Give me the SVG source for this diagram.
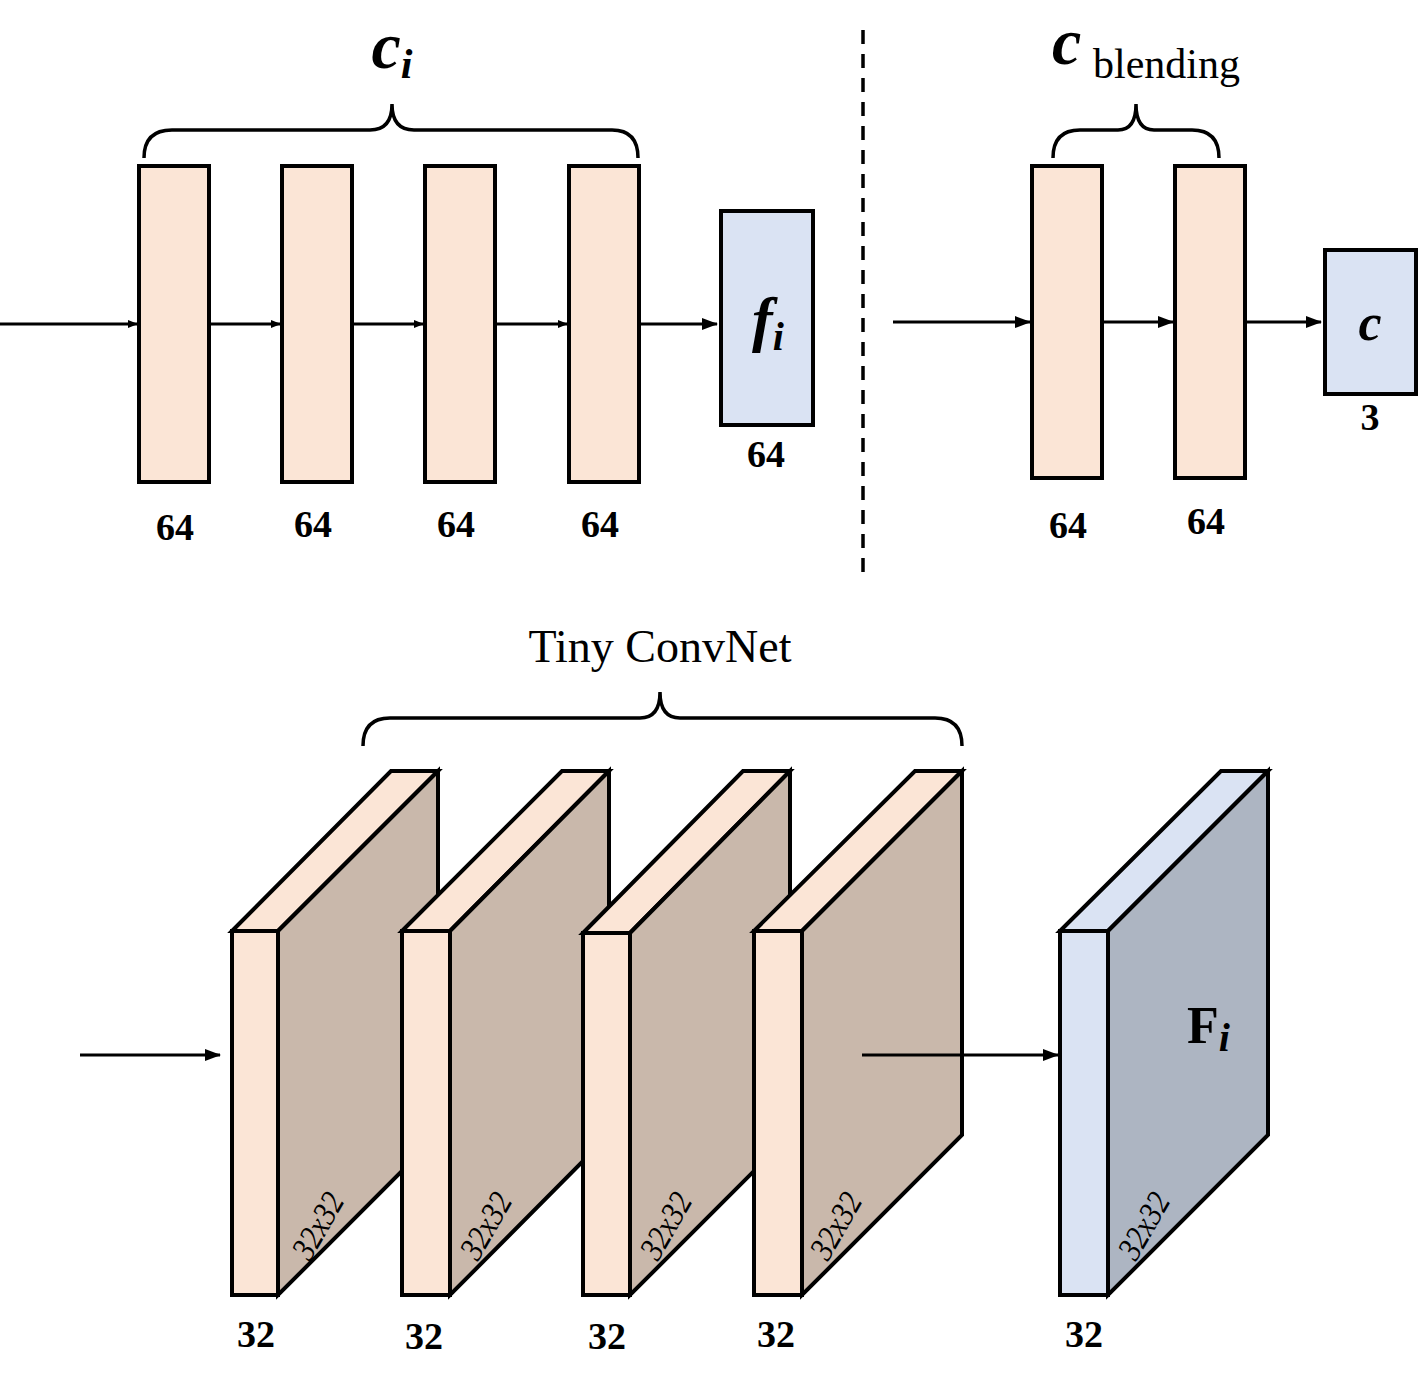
<svg xmlns="http://www.w3.org/2000/svg" width="1418" height="1389" viewBox="0 0 1418 1389">
<defs>
<style>
.pr{fill:#fbe5d6;stroke:#000;stroke-width:4}
.bl{fill:#dae3f3;stroke:#000;stroke-width:4}
.sd{fill:#c9b8ab;stroke:#000;stroke-width:4;stroke-linejoin:miter}
.sdb{fill:#adb5c2;stroke:#000;stroke-width:4}
.ln{stroke:#000;stroke-width:3;fill:none}
.br{stroke:#000;stroke-width:3.5;fill:none}
.n{font-family:"Liberation Serif",serif;font-weight:bold;font-size:38px;text-anchor:middle}
.d{font-family:"Liberation Serif",serif;font-style:italic;font-size:34px}
</style>
<marker id="ah" markerWidth="10" markerHeight="8" refX="9" refY="4" orient="auto" markerUnits="userSpaceOnUse" viewBox="0 0 10 8"><path d="M0,0L10,4L0,8z" fill="#000"/></marker>
<marker id="ah2" markerWidth="16" markerHeight="12" refX="15" refY="6" orient="auto" markerUnits="userSpaceOnUse" viewBox="0 0 16 12"><path d="M0,0L16,6L0,12z" fill="#000"/></marker>
</defs>
<g id="top-left">
<rect class="pr" x="139" y="166" width="70" height="316"/>
<rect class="pr" x="282" y="166" width="70" height="316"/>
<rect class="pr" x="425" y="166" width="70" height="316"/>
<rect class="pr" x="569" y="166" width="70" height="316"/>
<rect class="bl" x="721" y="211" width="92" height="214"/>
<text x="768" y="340" font-family="Liberation Serif,serif" font-weight="bold" font-style="italic" font-size="62" text-anchor="middle">f<tspan font-size="40" dy="10">i</tspan></text>
<text class="n" x="175" y="540">64</text><text class="n" x="313" y="537">64</text><text class="n" x="456" y="537">64</text><text class="n" x="600" y="537">64</text><text class="n" x="766" y="467">64</text>
<path class="br" d="M144,158 Q144,130 172,130 L370,130 Q392,130 392,104 Q392,130 414,130 L612,130 Q638,130 638,158"/>
<text x="392" y="68" font-family="Liberation Serif,serif" font-weight="bold" font-style="italic" font-size="66" text-anchor="middle">c<tspan font-size="42" dy="10">i</tspan></text>
</g>
<g id="top-right">
<rect class="pr" x="1032" y="166" width="70" height="312"/>
<rect class="pr" x="1175" y="166" width="70" height="312"/>
<rect class="bl" x="1325" y="250" width="91" height="144"/>
<text x="1370" y="340" font-family="Liberation Serif,serif" font-weight="bold" font-style="italic" font-size="52" text-anchor="middle">c</text>
<text class="n" x="1370" y="430">3</text>
<text class="n" x="1068" y="538">64</text><text class="n" x="1206" y="534">64</text>
<path class="br" d="M1053,158 Q1053,130 1080,130 L1118,130 Q1136,130 1136,104 Q1136,130 1154,130 L1192,130 Q1219,130 1219,158"/>
<text x="1052" y="64" font-family="Liberation Serif,serif" font-weight="bold" font-style="italic" font-size="66">c</text>
<text x="1093" y="78" font-family="Liberation Serif,serif" font-size="42">blending</text>
</g>
<line x1="863" y1="30" x2="863" y2="575" stroke="#000" stroke-width="3.5" stroke-dasharray="14,10"/>
<g id="tiny-convnet">
<text x="660" y="662" font-family="Liberation Serif,serif" font-size="46" text-anchor="middle">Tiny ConvNet</text>
<path class="br" d="M363,746 Q363,718 390,718 L640,718 Q660,718 660,692 Q660,718 680,718 L935,718 Q962,718 962,746"/>
<g id="b1">
<path class="pr" d="M232,931L391,771L438,771L278,931z"/>
<path class="sd" d="M278,931L438,771L438,1135L278,1295z"/>
<rect class="pr" x="232" y="931" width="46" height="364"/>
<text class="d" transform="translate(310,1262) rotate(-60) scale(0.85,1)">32x32</text>
</g>
<g id="b2">
<path class="pr" d="M402,931L562,771L609,771L450,931z"/>
<path class="sd" d="M450,931L609,771L609,1135L450,1295z"/>
<rect class="pr" x="402" y="931" width="48" height="364"/>
<text class="d" transform="translate(478,1262) rotate(-60) scale(0.85,1)">32x32</text>
</g>
<g id="b3">
<path class="pr" d="M583,933L743,771L790,771L630,933z"/>
<path class="sd" d="M630,933L790,771L790,1135L630,1295z"/>
<rect class="pr" x="583" y="933" width="47" height="362"/>
<text class="d" transform="translate(658,1262) rotate(-60) scale(0.85,1)">32x32</text>
</g>
<g id="b4">
<path class="pr" d="M754,931L915,771L962,771L802,931z"/>
<path class="sd" d="M802,931L962,771L962,1135L802,1295z"/>
<rect class="pr" x="754" y="931" width="48" height="364"/>
<text class="d" transform="translate(828,1262) rotate(-60) scale(0.85,1)">32x32</text>
</g>
<g id="fbox">
<path class="bl" d="M1060,931L1221,771L1268,771L1108,931z"/>
<path class="sdb" d="M1108,931L1268,771L1268,1135L1108,1295z"/>
<rect class="bl" x="1060" y="931" width="48" height="364"/>
<text class="d" transform="translate(1136,1262) rotate(-60) scale(0.85,1)">32x32</text>
<text x="1187" y="1043" font-family="Liberation Serif,serif" font-weight="bold" font-size="52">F<tspan font-style="italic" font-size="40" dy="8">i</tspan></text>
</g>
<text class="n" x="256" y="1347">32</text><text class="n" x="424" y="1349">32</text><text class="n" x="607" y="1349">32</text><text class="n" x="776" y="1347">32</text><text class="n" x="1084" y="1347">32</text>
</g>
<g id="connectors">
<line class="ln" x1="0" y1="324" x2="137" y2="324" marker-end="url(#ah)"/>
<line class="ln" x1="209" y1="324" x2="280" y2="324" marker-end="url(#ah)"/>
<line class="ln" x1="352" y1="324" x2="423" y2="324" marker-end="url(#ah)"/>
<line class="ln" x1="495" y1="324" x2="567" y2="324" marker-end="url(#ah)"/>
<line class="ln" x1="639" y1="324" x2="717" y2="324" marker-end="url(#ah2)"/>
<line class="ln" x1="893" y1="322" x2="1030" y2="322" marker-end="url(#ah2)"/>
<line class="ln" x1="1102" y1="322" x2="1173" y2="322" marker-end="url(#ah2)"/>
<line class="ln" x1="1245" y1="322" x2="1321" y2="322" marker-end="url(#ah2)"/>
<line class="ln" x1="80" y1="1055" x2="220" y2="1055" marker-end="url(#ah2)"/>
<line class="ln" x1="862" y1="1055" x2="1058" y2="1055" marker-end="url(#ah2)"/>
</g>
</svg>
